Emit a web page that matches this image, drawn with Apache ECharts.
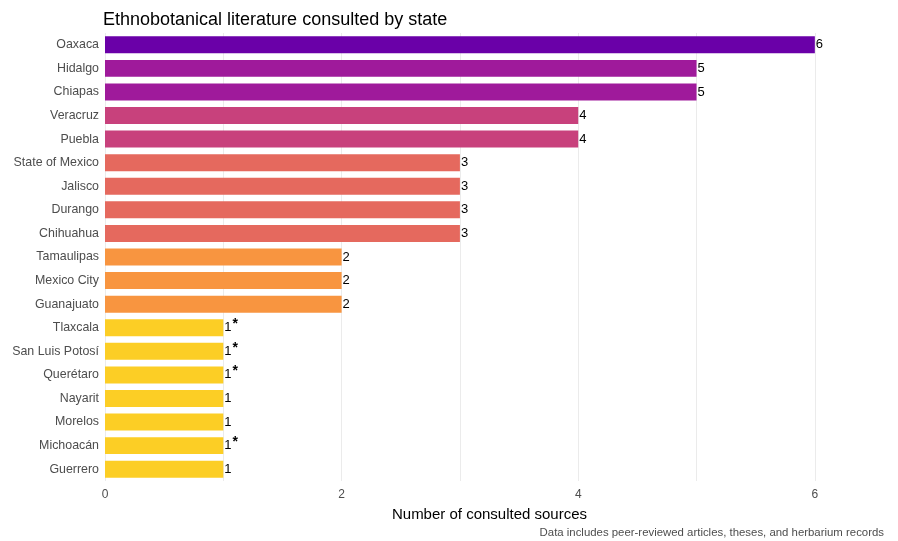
<!DOCTYPE html>
<html>
<head>
<meta charset="utf-8">
<script src="https://cdn.jsdelivr.net/npm/echarts@6/dist/echarts.min.js"></script>
<style>
  html, body { margin: 0; padding: 0; background: #fff; }
  #main { width: 898px; height: 541px; }
</style>
</head>
<body>
<div id="main"></div>
<script>
const states = ['Oaxaca', 'Hidalgo', 'Chiapas', 'Veracruz', 'Puebla', 'State of Mexico', 'Jalisco',
    'Durango', 'Chihuahua', 'Tamaulipas', 'Mexico City', 'Guanajuato', 'Tlaxcala',
    'San Luis Potosí', 'Querétaro', 'Nayarit', 'Morelos', 'Michoacán', 'Guerrero'];
const sources = [6, 5, 5, 4, 4, 3, 3, 3, 3, 2, 2, 2, 1, 1, 1, 1, 1, 1, 1];
const flagged = ['Tlaxcala', 'San Luis Potosí', 'Querétaro', 'Michoacán'];

// colour per count (plasma-like)
const countColors = {
    6: '#6a00a8',
    5: '#9f1a9b',
    4: '#c8417c',
    3: '#e5695e',
    2: '#f89540',
    1: '#fcce25'
};

const myChart = echarts.init(document.getElementById('main'));

option = {
    backgroundColor: '#fff',
    animation: false,
    title: {
        text: 'Ethnobotanical literature consulted by state',
        left: 98,
        top: 6,
        textStyle: { fontFamily: 'Liberation Sans', fontSize: 18, fontWeight: 'normal', color: '#000' }
    },
    graphic: [{
        type: 'text',
        right: 14,
        top: 527,
        style: {
            text: 'Data includes peer-reviewed articles, theses, and herbarium records',
            font: '11.4px "Liberation Sans"',
            fill: '#4d4d4d'
        }
    }],
    grid: { left: 105, right: 24, top: 33, bottom: 60 },
    xAxis: {
        type: 'value',
        min: 0,
        max: 6.5,
        interval: 1,
        name: 'Number of consulted sources',
        nameLocation: 'middle',
        nameGap: 26,
        nameTextStyle: { fontFamily: 'Liberation Sans', fontSize: 15, color: '#000' },
        axisLine: { show: false },
        axisTick: { show: false },
        axisLabel: {
            margin: 8,
            showMaxLabel: false,
            fontFamily: 'Liberation Sans',
            fontSize: 12,
            color: '#4d4d4d',
            formatter: function (v) { return v % 2 === 0 ? v : ''; }
        },
        splitLine: { showMaxLine: false, lineStyle: { color: '#ebebeb', width: 1 } }
    },
    yAxis: {
        type: 'category',
        data: states,
        inverse: true,
        axisLine: { show: false },
        axisTick: { show: false },
        axisLabel: { margin: 6, fontFamily: 'Liberation Sans', fontSize: 12.4, color: '#4d4d4d' }
    },
    series: [{
        type: 'bar',
        barWidth: '72%',
        data: sources.map(function (v, i) {
            return { value: v, itemStyle: { color: countColors[v] } };
        }),
        label: {
            show: true,
            position: 'right',
            distance: 1,
            formatter: function (p) {
                return flagged.indexOf(p.name) >= 0 ? '{v|' + p.value + '}{s|*}' : '{v|' + p.value + '}';
            },
            rich: {
                v: { fontFamily: 'Liberation Sans', fontSize: 13, color: '#000' },
                s: { fontFamily: 'Liberation Sans', fontSize: 14, fontWeight: 'bold', color: '#000', padding: [0, 0, 7, 1] }
            }
        }
    }]
};

myChart.setOption(option);
</script>
</body>
</html>
